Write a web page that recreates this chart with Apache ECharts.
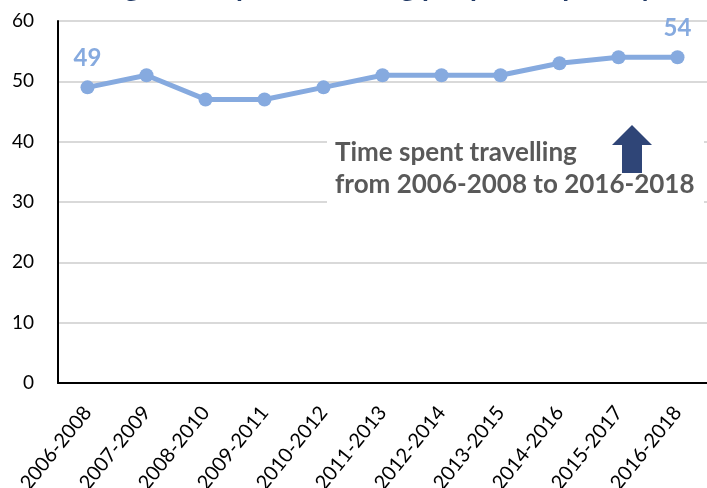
<!DOCTYPE html>
<html>
<head>
<meta charset="utf-8">
<script src="https://cdn.jsdelivr.net/npm/echarts@6/dist/echarts.min.js"></script>
<style>
  html, body { margin: 0; padding: 0; background: #ffffff; }
  #chart { width: 707px; height: 488px; }
</style>
</head>
<body>
<div id="chart"></div>
<script>
// Three-year rolling periods
var periods = ['2006-2008', '2007-2009', '2008-2010', '2009-2011', '2010-2012', '2011-2013',
               '2012-2014', '2013-2015', '2014-2016', '2015-2017', '2016-2018'];
// Average time spent travelling (minutes per person per day)
var minutesPerDay = [49, 51, 47, 47, 49, 51, 51, 51, 53, 54, 54];
// Which points carry a value label
var labelledPoints = [0, 10];
var yTicks = { min: 0, max: 60, step: 10 };

var lineColor = '#86AADF';
var font = 'Lato, "Open Sans", sans-serif';

var seriesData = minutesPerDay.map(function (v, i) {
  var item = { value: v };
  if (labelledPoints.indexOf(i) >= 0) {
    item.label = {
      show: true, position: 'top', distance: 10,
      color: lineColor, fontSize: 24, fontWeight: 'bold', fontFamily: font
    };
  }
  return item;
});

var chart = echarts.init(document.getElementById('chart'), null, { renderer: 'canvas' });
chart.setOption({
  animation: false,
  backgroundColor: '#ffffff',
  grid: { left: 58, right: 0, top: 21, bottom: 105, containLabel: false, outerBoundsMode: 'none' },
  xAxis: {
    type: 'category',
    data: periods,
    boundaryGap: true,
    axisLine: { show: true, lineStyle: { color: '#000000', width: 2 } },
    axisTick: { show: false },
    axisLabel: {
      rotate: 51, margin: 26, interval: 0, hideOverlap: false,
      color: '#000000', fontSize: 20, fontFamily: font
    },
    splitLine: { show: false }
  },
  yAxis: {
    type: 'value',
    min: yTicks.min, max: yTicks.max, interval: yTicks.step,
    axisLine: { show: true, lineStyle: { color: '#000000', width: 2 } },
    axisTick: { show: false },
    axisLabel: { margin: 24, color: '#000000', fontSize: 19, fontFamily: font },
    splitLine: { show: true, lineStyle: { color: '#D9D9D9', width: 2 } }
  },
  series: [{
    type: 'line',
    data: seriesData,
    symbol: 'circle',
    symbolSize: 14,
    lineStyle: { color: lineColor, width: 5 },
    itemStyle: { color: lineColor },
    label: { show: false },
    z: 5
  }],
  graphic: [
    {
      // chart title, mostly above the visible area
      type: 'text', left: 'center', top: -27, z: 10,
      style: {
        text: 'Average time spent travelling per person per day',
        font: 'bold 28px ' + font, fill: '#1F3864'
      }
    },
    {
      // white panel behind the annotation
      type: 'rect', z: 6,
      shape: { x: 327, y: 126, width: 377, height: 88 },
      style: { fill: '#ffffff' }
    },
    {
      type: 'text', left: 335, top: 137, z: 7,
      style: {
        text: 'Time spent travelling\nfrom 2006-2008 to 2016-2018',
        font: 'bold 26px ' + font, fill: '#595959', lineHeight: 32
      }
    },
    {
      // upward arrow
      type: 'polygon', z: 7,
      shape: { points: [[632, 125], [652, 145], [642, 145], [642, 173], [622, 173], [622, 145], [612, 145]] },
      style: { fill: '#2F4577' }
    }
  ]
});
</script>
</body>
</html>
